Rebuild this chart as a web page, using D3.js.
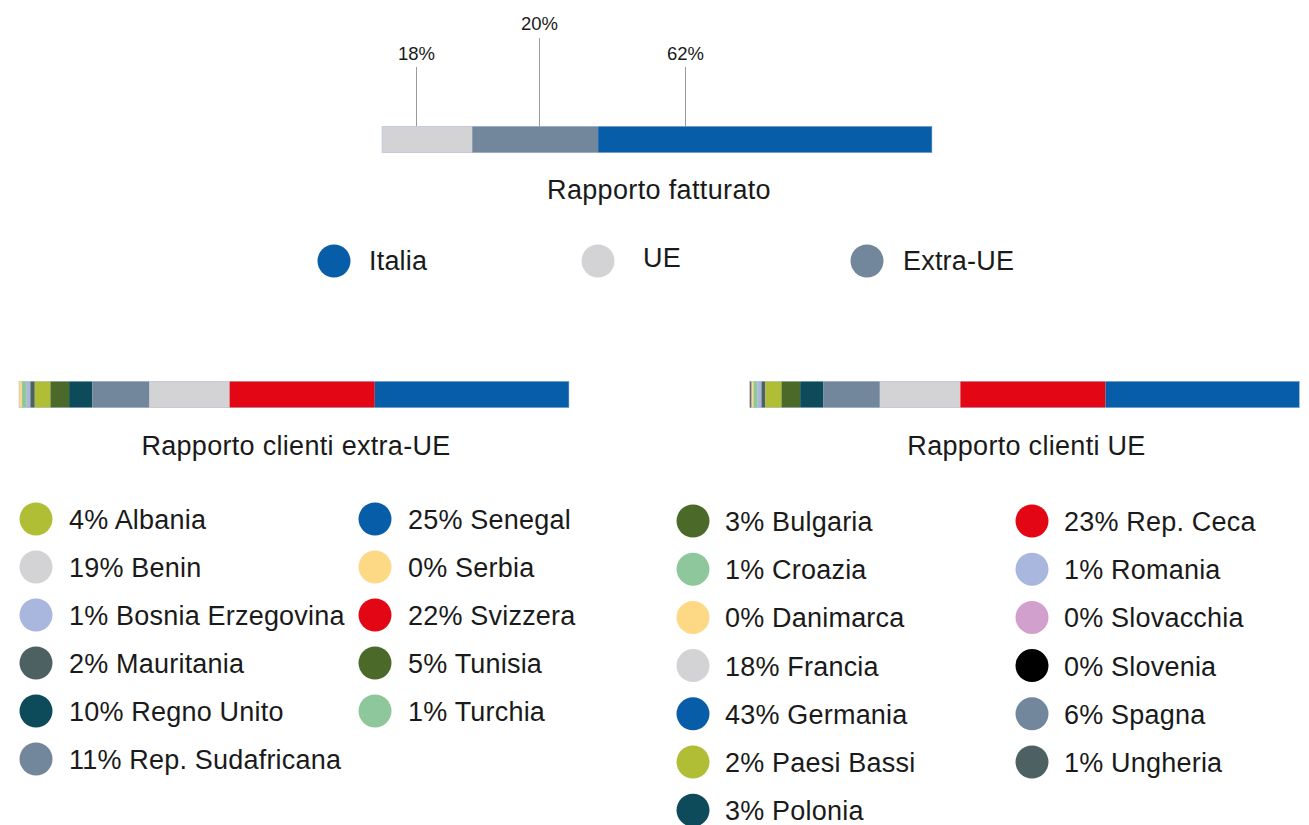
<!DOCTYPE html>
<html>
<head>
<meta charset="utf-8">
<script src="https://cdn.jsdelivr.net/npm/d3@7"></script>
<style>
  body { margin: 0; background: #fff; }
  text { font-family: "Liberation Sans", Arial, sans-serif; fill: #1a1a1a; letter-spacing: 0.2px; }
</style>
</head>
<body>
<div id="chart"></div>
<script>
// ---- data ----
const topCats = ["UE", "Extra-UE", "Italia"];
const topBarShares = [16.4, 22.9, 60.7];
const topLabels = ["18%", "20%", "62%"];
const topLabelAt = [6.2, 28.5, 55.1];   // where the leader line sits, in % of bar
const topLegend = ["Italia", "UE", "Extra-UE"];

const extraCountries = ["Albania", "Benin", "Bosnia Erzegovina", "Mauritania", "Regno Unito", "Rep. Sudafricana",
                        "Senegal", "Serbia", "Svizzera", "Tunisia", "Turchia"];
const extraPct = [4, 19, 1, 2, 10, 11, 25, 0, 22, 5, 1];
const extraBarOrder = ["Serbia", "Turchia", "Bosnia Erzegovina", "Mauritania", "Albania", "Tunisia",
                       "Regno Unito", "Rep. Sudafricana", "Benin", "Svizzera", "Senegal"];
const extraBarShares = [0.55, 0.86, 0.66, 0.80, 2.84, 3.40, 4.24, 10.38, 14.56, 26.40, 35.32];

const ueCountries = ["Bulgaria", "Croazia", "Danimarca", "Francia", "Germania", "Paesi Bassi", "Polonia",
                     "Rep. Ceca", "Romania", "Slovacchia", "Slovenia", "Spagna", "Ungheria"];
const uePct = [3, 1, 0, 18, 43, 2, 3, 23, 1, 0, 0, 6, 1];
const ueBarOrder = ["Slovacchia", "Slovenia", "Danimarca", "Croazia", "Romania", "Ungheria", "Paesi Bassi",
                    "Bulgaria", "Polonia", "Spagna", "Francia", "Rep. Ceca", "Germania"];
const ueBarShares = [0.18, 0.18, 0.36, 0.78, 0.67, 0.73, 2.91, 3.40, 4.24, 10.25, 14.64, 26.40, 35.26];

const colors = {
  "Italia": "#075da8", "UE": "#d3d3d5", "Extra-UE": "#72879c",
  "Albania": "#afbe35", "Benin": "#d3d3d5", "Bosnia Erzegovina": "#a9b6de", "Mauritania": "#4d6163",
  "Regno Unito": "#0d4b5b", "Rep. Sudafricana": "#72879c", "Senegal": "#075da8", "Serbia": "#fdd986",
  "Svizzera": "#e30716", "Tunisia": "#4b6a29", "Turchia": "#8ec79b",
  "Bulgaria": "#4b6a29", "Croazia": "#8ec79b", "Danimarca": "#fdd986", "Francia": "#d3d3d5",
  "Germania": "#075da8", "Paesi Bassi": "#afbe35", "Polonia": "#0d4b5b", "Rep. Ceca": "#e30716",
  "Romania": "#a9b6de", "Slovacchia": "#d2a0cc", "Slovenia": "#000000", "Spagna": "#72879c",
  "Ungheria": "#4d6163"
};

// ---- layout ----
const W = 1309, H = 825;
const barH = 27, barW = 550, fs = 27;

const svg = d3.select("#chart").append("svg")
  .attr("width", W).attr("height", H);

// stacked bar from names + shares, returns the x scale
function drawBar(g, names, shares, x0, y0) {
  const total = d3.sum(shares);
  const x = d3.scaleLinear().domain([0, total]).range([x0, x0 + barW]);
  const cum = d3.cumsum(shares);
  const segs = names.map((n, i) => ({ name: n, start: cum[i] - shares[i], end: cum[i] }));
  g.selectAll("rect.seg")
    .data(segs)
    .enter()
    .append("rect")
    .attr("class", "seg")
    .attr("x", d => x(d.start))
    .attr("y", y0)
    .attr("width", d => x(d.end) - x(d.start))
    .attr("height", barH)
    .attr("fill", d => colors[d.name]);
  g.append("rect")
    .attr("x", x0).attr("y", y0 + 0.5)
    .attr("width", barW).attr("height", barH - 1)
    .attr("fill", "none")
    .attr("stroke", "#b9c6da")
    .attr("stroke-opacity", 0.6)
    .attr("stroke-width", 1);
  return x;
}

////////// top bar: Rapporto fatturato //////////
const topG = svg.append("g");
const xTop = drawBar(topG, topCats, topBarShares, 382, 126);
const pctScale = d3.scaleLinear().domain([0, 100]).range(xTop.range());

topLabels.forEach((lab, i) => {
  const lx = Math.round(pctScale(topLabelAt[i])) + 0.5;
  const high = i === 1;
  topG.append("line")
    .attr("x1", lx).attr("x2", lx)
    .attr("y1", high ? 38 : 67).attr("y2", 126)
    .attr("stroke", "#9a9a9a").attr("stroke-width", 1);
  topG.append("text")
    .attr("x", lx).attr("y", high ? 30 : 60)
    .attr("text-anchor", "middle")
    .style("font-size", "18.5px")
    .style("letter-spacing", "0px")
    .text(lab);
});

topG.append("text")
  .attr("x", 659).attr("y", 199)
  .attr("text-anchor", "middle")
  .style("font-size", fs + "px")
  .style("letter-spacing", "0.35px")
  .text("Rapporto fatturato");

const topLegendX = [334, 598, 867];
const topLegendDx = [35, 45, 36];
topLegend.forEach((n, i) => {
  topG.append("circle")
    .attr("cx", topLegendX[i]).attr("cy", 261).attr("r", 16.5)
    .attr("fill", colors[n]);
  topG.append("text")
    .attr("x", topLegendX[i] + topLegendDx[i])
    .attr("y", n === "UE" ? 267 : 270)
    .style("font-size", fs + "px")
    .text(n);
});

////////// lower panels //////////
function drawPanel(cfg) {
  const g = svg.append("g");
  drawBar(g, cfg.barOrder, cfg.barShares, cfg.barX, 381);
  g.append("text")
    .attr("x", cfg.barX + barW / 2 + 2).attr("y", 455)
    .attr("text-anchor", "middle")
    .style("font-size", fs + "px")
    .style("letter-spacing", "0.3px")
    .text(cfg.title);

  const items = cfg.countries.map((c, i) => ({ name: c, pct: cfg.pct[i], i: i }));
  const row = d3.scaleLinear().domain([0, 1]).range([cfg.rowY0, cfg.rowY0 + cfg.rowStep]);
  const leg = g.selectAll("g.item")
    .data(items)
    .enter()
    .append("g")
    .attr("class", "item")
    .attr("transform", d => {
      const col = d.i < cfg.perCol ? 0 : 1;
      const r = d.i % cfg.perCol;
      return "translate(" + cfg.colX[col] + "," + row(r) + ")";
    });
  leg.append("circle")
    .attr("cx", 0).attr("cy", 0).attr("r", 16.5)
    .attr("fill", d => colors[d.name]);
  leg.append("text")
    .attr("x", cfg.textDx).attr("y", 10)
    .style("font-size", fs + "px")
    .text(d => d.pct + "% " + d.name);
}

drawPanel({
  title: "Rapporto clienti extra-UE",
  barOrder: extraBarOrder, barShares: extraBarShares, barX: 19,
  countries: extraCountries, pct: extraPct, perCol: 6,
  colX: [36, 375], textDx: 33, rowY0: 519, rowStep: 48
});

drawPanel({
  title: "Rapporto clienti UE",
  barOrder: ueBarOrder, barShares: ueBarShares, barX: 749.5,
  countries: ueCountries, pct: uePct, perCol: 7,
  colX: [693, 1032], textDx: 32, rowY0: 521, rowStep: 48.2
});
</script>
</body>
</html>
